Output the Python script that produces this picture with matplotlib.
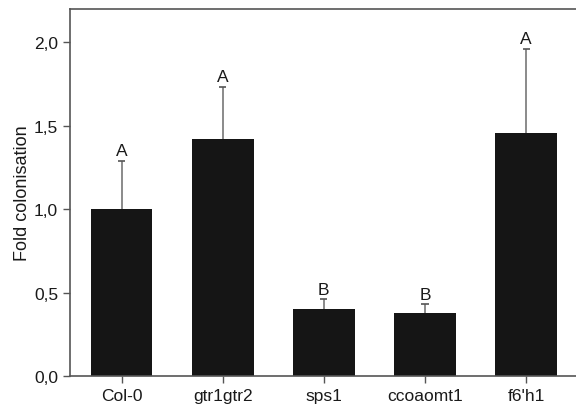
import numpy as np
import matplotlib.pyplot as plt

genotypes = ["Col-0", "gtr1gtr2", "sps1", "ccoaomt1", "f6'h1"]
fold_col = [1.0, 1.419, 0.403, 0.377, 1.455]
err_top = [1.289, 1.735, 0.459, 0.431, 1.962]
letters = ["A", "A", "B", "B", "A"]

plt.rcParams['font.family'] = ['Liberation Sans', 'DejaVu Sans']

fig = plt.figure(figsize=(5.76, 4.06), dpi=100)
ax = fig.add_axes([70/576, 29/406, 1 - 70/576 + 0.01, 367/406])

x = np.arange(len(genotypes))
ax.bar(x, fold_col, width=0.61, color="#151515", zorder=2)
# one-sided error bars, cap only at the top
ax.vlines(x, fold_col, err_top, color="#777777", linewidth=1.2, zorder=1)
ax.hlines(err_top, x - 0.035, x + 0.035, color="#555555", linewidth=1.2, zorder=1)
for xi, top, lab in zip(x, err_top, letters):
    ax.text(xi, top + 0.015, lab, ha="center", va="bottom", fontsize=12.5, color="#1a1a1a")

ax.set_xlim(-0.51, 4.55)
ax.set_ylim(0, 2.2)
ax.set_yticks([0, 0.5, 1.0, 1.5, 2.0])
ax.set_yticklabels(["0,0", "0,5", "1,0", "1,5", "2,0"])
ax.set_xticks(x)
ax.set_xticklabels(genotypes)
ax.set_ylabel("Fold colonisation", fontsize=13, color="#1a1a1a", labelpad=2)
ax.tick_params(labelsize=12.5, colors="#555555", labelcolor="#1a1a1a", length=5, width=1)
for s in ["left", "bottom", "top"]:
    ax.spines[s].set_color("#555555")
    ax.spines[s].set_linewidth(1.2)
ax.spines["right"].set_visible(False)

fig.savefig("out.png", dpi=100)
